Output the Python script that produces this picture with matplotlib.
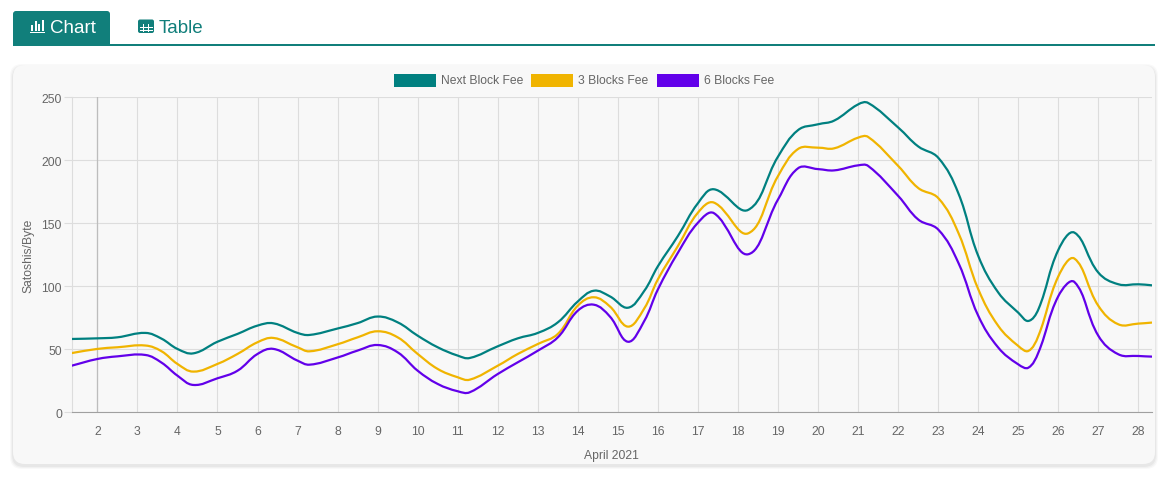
import numpy as np
import matplotlib
matplotlib.use("Agg")
import matplotlib.pyplot as plt
from matplotlib.path import Path
from matplotlib.patches import PathPatch, FancyBboxPatch, Rectangle

plt.rcParams["font.family"] = ["Liberation Sans", "DejaVu Sans"]

# Tage im April 2021 (Messzeitpunkte) und Gebühren in Satoshis/Byte
tage = [1.36, 2, 2.5, 3.2, 3.6, 4, 4.4, 5, 5.5, 6, 6.4, 7, 7.3, 8, 8.5, 9, 9.5,
        10, 10.5, 11, 11.3, 12, 12.5, 13, 13.5, 14, 14.4, 14.8, 15.25, 15.65, 16,
        16.5, 17, 17.4, 18.25, 19, 19.5, 20, 20.4, 21, 21.25, 22,
        22.5, 23, 23.5, 24, 24.5, 25, 25.25, 25.5, 26, 26.4, 27, 27.5, 28, 28.33]

next_block = [58.2, 58.7, 59.5, 63, 58.5, 50.3, 46.8, 56, 62.2, 68.8, 70.6, 63,
              61.4, 66.5, 70.8, 76, 71.4, 60.8, 51.6, 45, 43.1, 52.4, 58.7, 63,
              71.4, 88, 96.5, 92, 83, 96, 116, 140, 166, 177, 160.6,
              203, 224, 228.6, 231.5, 244.4, 245.5, 226, 211, 202, 174, 124, 95,
              79, 72.5, 81.7, 129, 142.6, 110.8, 101.6, 101.6, 100.8]

blocks_3 = [47, 50.3, 51.6, 53, 48.5, 38.4, 32.3, 38.4, 46.3, 55.6, 59, 51.6,
            48.4, 54, 59.5, 64.3, 59.5, 46.3, 34.4, 27.8, 25.9, 37, 46.3, 54.2,
            62.2, 84.7, 91.3, 84, 68, 82, 105.6, 132, 158.5, 166.4, 142,
            187.6, 209, 210, 209.5, 218, 218.5, 195.5, 178, 170, 142.6,
            97.6, 68.5, 52.6, 48.7, 60.6, 108, 122, 84.4, 69.8, 70.4, 71.2]

blocks_6 = [37, 42.3, 44.4, 45.5, 39.5, 29.1, 21.7, 27, 33, 46.3, 50.3, 41,
            37.8, 43.5, 49, 53.4, 47.6, 33, 22.5, 16.7, 15.9, 30.4, 39.7, 48.9,
            59.5, 80.7, 85.4, 76, 56, 72, 97.6, 126.7, 150.5, 158, 125.4,
            169, 193.7, 193, 192, 196, 195.5, 171.7, 153, 145, 118.8, 76.5,
            51.3, 38, 35.4, 47.4, 92.3, 103.4, 60.6, 46, 44.7, 44.2]

labels = ["Next Block Fee", "3 Blocks Fee", "6 Blocks Fee"]
farben = ["#008080", "#f0b400", "#6200ea"]

W, H = 1163, 481
fig = plt.figure(figsize=(W / 100, H / 100), dpi=100)
fig.patch.set_facecolor("white")

# Hintergrund-Achse in Pixelkoordinaten (Tabs, Karte, Legende)
bg = fig.add_axes([0, 0, 1, 1])
bg.set_xlim(0, W)
bg.set_ylim(H, 0)
bg.axis("off")

teal = "#117f7b"
# Schatten + Karte
for i, a in enumerate([0.025, 0.03, 0.04]):
    d = 4 - i
    bg.add_patch(FancyBboxPatch((13 - d + 1, 66 - d + 3), 1142 + 2 * d - 2, 399 + 2 * d - 2,
                                boxstyle="round,pad=0,rounding_size=12",
                                fc="black", ec="none", alpha=a))
bg.add_patch(FancyBboxPatch((13, 66), 1142, 399, boxstyle="round,pad=0,rounding_size=12",
                            fc="#f8f8f8", ec="none"))

# Tabs
bg.add_patch(FancyBboxPatch((13, 12), 97, 33, boxstyle="round,pad=0,rounding_size=3",
                            fc=teal, ec="none"))
bg.add_patch(Rectangle((13, 42), 97, 4, fc=teal, ec="none"))
bg.add_patch(Rectangle((13, 44.5), 1142, 2.8, fc=teal, ec="none"))
bg.text(50, 28.5, "Chart", color="white", fontsize=13.5, va="center", ha="left")
bg.text(159, 28.5, "Table", color=teal, fontsize=13.5, va="center", ha="left")
# Chart-Icon
for bx, bh in [(31, 6), (34.5, 10), (38, 7), (41.5, 11)]:
    bg.add_patch(Rectangle((bx, 32 - bh), 2.2, bh, fc="white", ec="none"))
bg.add_patch(Rectangle((30, 33), 15, 1.4, fc="white", ec="none"))
# Tabellen-Icon
bg.add_patch(FancyBboxPatch((138, 20.5), 16, 13.5, boxstyle="round,pad=0,rounding_size=2",
                            fc=teal, ec="none"))
for gy in [24.5, 27.8, 31]:
    bg.add_patch(Rectangle((139.5, gy), 13, 0.9, fc="white", ec="none"))
for gx in [142.8, 148.3]:
    bg.add_patch(Rectangle((gx, 24.5), 0.9, 8, fc="white", ec="none"))

# Legende
leg_x = [394, 531, 657]
for lx, lab, c in zip(leg_x, labels, farben):
    bg.add_patch(Rectangle((lx, 75), 42, 13, fc=c, ec="none"))
    bg.text(lx + 47, 81.5, lab, color="#666666", fontsize=8.7, va="center", ha="left")

# Diagramm-Achse
ax = fig.add_axes([71.7 / W, 1 - 413.3 / H, 1080 / W, 315 / H])
ax.set_facecolor("#f8f8f8")
ax.set_xlim(1.36, 28.33)
ax.set_ylim(0, 250)

sx = 1080 / (28.33 - 1.36)
sy = 315 / 250


def spline_path(xs, ys, t=0.4):
    # Bezier-Kurve wie Chart.js (tension 0.4), Abstand in Pixeln
    px = np.array(xs) * sx
    py = np.array(ys) * sy
    n = len(px)
    cps = []
    for i in range(n):
        p0 = (px[max(i - 1, 0)], py[max(i - 1, 0)])
        p1 = (px[i], py[i])
        p2 = (px[min(i + 1, n - 1)], py[min(i + 1, n - 1)])
        d01 = np.hypot(p1[0] - p0[0], p1[1] - p0[1])
        d12 = np.hypot(p2[0] - p1[0], p2[1] - p1[1])
        s = d01 + d12 if d01 + d12 > 0 else 1
        fa, fb = t * d01 / s, t * d12 / s
        prev = (p1[0] - fa * (p2[0] - p0[0]), p1[1] - fa * (p2[1] - p0[1]))
        nxt = (p1[0] + fb * (p2[0] - p0[0]), p1[1] + fb * (p2[1] - p0[1]))
        cps.append((prev, nxt))
    verts = [(px[0], py[0])]
    codes = [Path.MOVETO]
    for i in range(n - 1):
        verts += [cps[i][1], cps[i + 1][0], (px[i + 1], py[i + 1])]
        codes += [Path.CURVE4] * 3
    verts = [(vx / sx, vy / sy) for vx, vy in verts]
    return Path(verts, codes)


for serie, c in zip([next_block, blocks_3, blocks_6], farben):
    ax.add_patch(PathPatch(spline_path(tage, serie), fc="none", ec=c, lw=1.6,
                           zorder=3, capstyle="round", joinstyle="round"))

ax.set_xticks(range(2, 29))
ax.set_yticks(range(0, 251, 50))
ax.grid(True, color="#dddddd", lw=0.8, zorder=0)
ax.set_axisbelow(True)
ax.axvline(2, color="#bdbdbd", lw=0.9, zorder=1)
for side in ["top", "right"]:
    ax.spines[side].set_visible(False)
ax.spines["left"].set_color("#dddddd")
ax.spines["bottom"].set_color("#a0a0a0")
ax.tick_params(axis="y", length=6, color="#dddddd", labelsize=8.7, labelcolor="#666666", pad=1)
ax.tick_params(axis="x", length=0, labelsize=8.7, labelcolor="#666666", pad=9)
ax.set_ylabel("Satoshis/Byte", color="#666666", fontsize=8.7, labelpad=5)
ax.set_xlabel("April 2021", color="#666666", fontsize=8.7, labelpad=9)

fig.savefig("out.png", dpi=100, facecolor="white")
